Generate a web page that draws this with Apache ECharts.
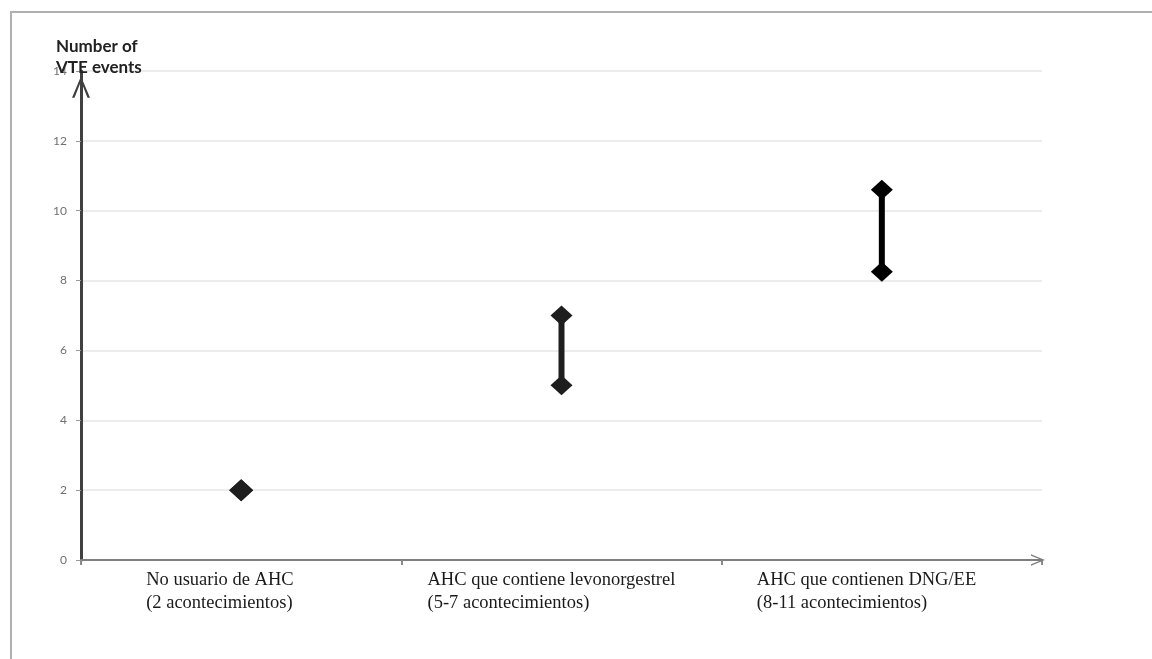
<!DOCTYPE html>
<html>
<head>
<meta charset="utf-8">
<script src="https://cdn.jsdelivr.net/npm/echarts@6/dist/echarts.min.js"></script>
<style>
  html, body { margin: 0; padding: 0; background: #fff; }
  #frame { position: absolute; left: 10px; top: 11px; width: 1200px; height: 700px;
           border-left: 2px solid #b0b0b0; border-top: 2px solid #b0b0b0; box-sizing: border-box; }
  #chart { position: absolute; left: 0; top: 0; width: 1152px; height: 659px; }
</style>
</head>
<body>
<div id="frame"></div>
<div id="chart"></div>
<script>
// ---- data ----
const categories = [
  'No usuario de AHC\n(2 acontecimientos)',
  'AHC que contiene levonorgestrel\n(5-7 acontecimientos)',
  'AHC que contienen DNG/EE\n(8-11 acontecimientos)'
];
const lowValues = [2, 5, 8.25];
const highValues = [2, 7, 10.6];
const yTicks = [0, 2, 4, 6, 8, 10, 12, 14];
const yTitle = 'Number of\nVTE events';

// ---- chart ----
const chevronUp = 'path://M5,0 L10,12 L8.6,12 L5,2.8 L1.4,12 L0,12 Z';
const labelWidths = [190, 268, 250];
const rich = {};
labelWidths.forEach((w, i) => {
  rich['c' + i] = { width: w, align: 'left', fontFamily: 'Liberation Serif', fontSize: 18.5, color: '#1a1a1a', lineHeight: 23 };
});

const chart = echarts.init(document.getElementById('chart'));
chart.setOption({
  animation: false,
  title: {
    text: yTitle,
    left: 51, top: 31,
    textStyle: { fontFamily: 'Lato', fontWeight: 'bold', fontSize: 17, color: '#222', lineHeight: 21 }
  },
  grid: { left: 81, right: 110, top: 71, bottom: 99 },
  xAxis: {
    type: 'category',
    data: categories,
    boundaryGap: true,
    axisLine: {
      show: true,
      lineStyle: { color: '#7f7f7f', width: 2 },
      symbol: ['none', chevronUp],
      symbolSize: [18, 14],
      symbolOffset: [0, -4]
    },
    axisTick: { show: true, length: 5, lineStyle: { color: '#8a8a8a', width: 2 } },
    axisLabel: {
      interval: 0,
      margin: 9,
      align: 'center',
      formatter: function (value, idx) {
        const lines = value.split('\n');
        return lines.map(l => '{c' + idx + '|' + l + '}').join('\n');
      },
      rich: rich
    },
    splitLine: { show: false }
  },
  yAxis: {
    type: 'value',
    min: yTicks[0],
    max: yTicks[yTicks.length - 1],
    interval: 2,
    axisLine: {
      show: true,
      lineStyle: { color: '#404040', width: 3 },
      symbol: ['none', chevronUp],
      symbolSize: [18, 24],
      symbolOffset: [0, -16]
    },
    axisTick: { show: true, length: 5, lineStyle: { color: '#999', width: 1 } },
    axisLabel: { margin: 14, fontFamily: 'Lato', fontSize: 12, color: '#707070' },
    splitLine: { show: true, lineStyle: { color: '#e6e6e6', width: 1.5 } }
  },
  series: [
    {
      type: 'custom',
      data: categories.map((c, i) => [i, lowValues[i], highValues[i]]),
      renderItem: function (params, api) {
        const x = api.value(0);
        const lo = api.coord([x, api.value(1)]);
        const hi = api.coord([x, api.value(2)]);
        return {
          type: 'line',
          shape: { x1: lo[0], y1: lo[1], x2: hi[0], y2: hi[1] },
          style: { stroke: x === 2 ? '#000' : '#1e1e1e', lineWidth: 6 }
        };
      },
      z: 2
    },
    {
      type: 'scatter',
      data: lowValues,
      symbol: 'diamond',
      symbolSize: (v, p) => p.dataIndex === 0 ? [24, 22] : [22, 20],
      itemStyle: { opacity: 1, color: (p) => p.dataIndex === 2 ? '#000' : '#1e1e1e' },
      z: 3
    },
    {
      type: 'scatter',
      data: highValues,
      symbol: 'diamond',
      symbolSize: (v, p) => p.dataIndex === 0 ? [24, 22] : [22, 20],
      itemStyle: { opacity: 1, color: (p) => p.dataIndex === 2 ? '#000' : '#1e1e1e' },
      z: 3
    }
  ]
});
</script>
</body>
</html>
